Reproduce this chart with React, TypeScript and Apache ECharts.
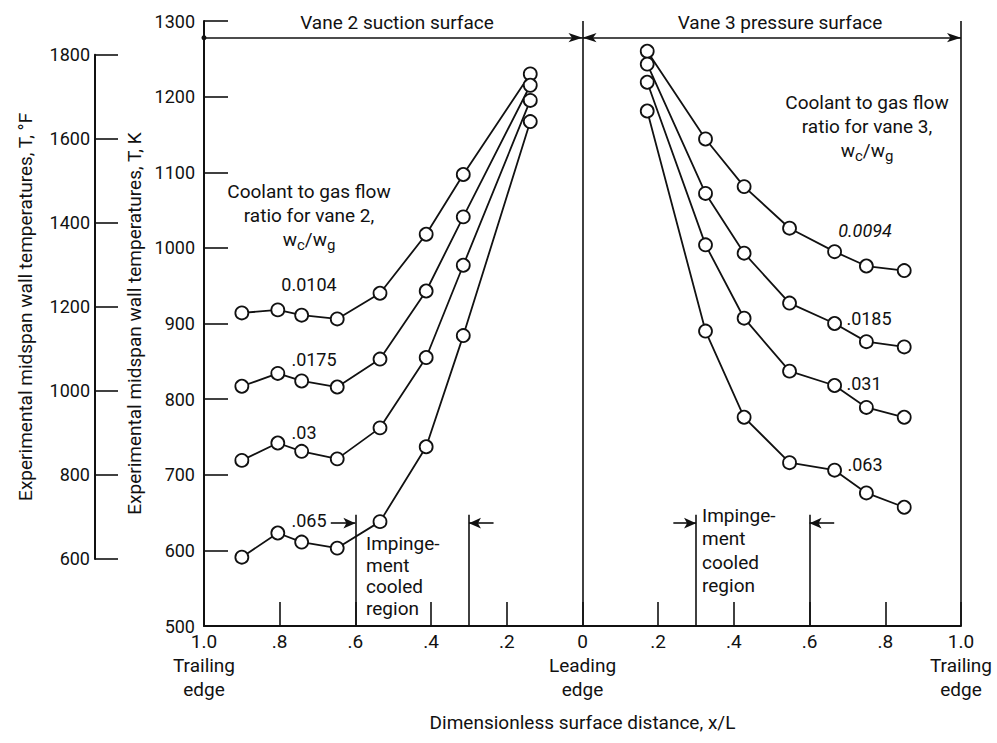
import React, { useEffect, useRef } from "react";
import * as echarts from "echarts";

// ---- data ----
// Vane 2 suction surface: x/L positions (plotted to the left of the leading edge)
const xVane2 = [0.9, 0.805, 0.742, 0.648, 0.535, 0.413, 0.315, 0.138];
const vane2Labels = ["0.0104", ".0175", ".03", ".065"];
const vane2_0104 = [914, 918, 911, 906, 940, 1018, 1097, 1230];
const vane2_0175 = [817, 834, 824, 816, 853, 943, 1041, 1215];
const vane2_030 = [719, 742, 731, 721, 762, 855, 977, 1195];
const vane2_065 = [591, 623, 611, 603, 638, 737, 884, 1167];

// Vane 3 pressure surface
const xVane3 = [0.171, 0.325, 0.427, 0.547, 0.666, 0.75, 0.85];
const vane3Labels = ["0.0094", ".0185", ".031", ".063"];
const vane3_0094 = [1260, 1144, 1081, 1026, 995, 976, 970];
const vane3_0185 = [1243, 1072, 993, 927, 900, 876, 869];
const vane3_031 = [1219, 1004, 907, 837, 818, 789, 776];
const vane3_063 = [1181, 890, 776, 716, 706, 676, 657];

// axes
const kMin = 500, kMax = 1300, kStep = 100;
const fMin = 600, fMax = 1800, fStep = 200;
const xMin = -1, xMax = 1, xStep = 0.2;
const impingeRegion = [0.3, 0.6];

const FONT = "Roboto";
const INK = "#111";
const FS = 19;

export default function App() {
  const ref = useRef<HTMLDivElement>(null);
  useEffect(() => {
    if (!ref.current) return;
    const chart = echarts.init(ref.current, null, { renderer: "svg" });

    const mkSeries = (xs: number[], ys: number[], sign: number, extra: any = {}) => ({
      type: "line",
      xAxisIndex: 0,
      yAxisIndex: 0,
      data: xs.map((x, i) => [sign * x, ys[i]]),
      symbol: "circle",
      symbolSize: 13,
      showSymbol: true,
      silent: true,
      z: 3,
      lineStyle: { color: INK, width: 1.8 },
      itemStyle: { color: "#fff", borderColor: INK, borderWidth: 1.8 },
      ...extra,
    });

    const lineY = 647; // top of impingement boundary lines (K)
    const arrowY = 636;
    const topY = 1278;
    const ln = (a: number[], b: number[]) => [
      { coord: a, symbol: "none" },
      { coord: b, symbol: "none" },
    ];
    const arrow = (a: number[], b: number[]) => [
      { coord: a, symbol: "none" },
      { coord: b, symbol: "arrow", symbolSize: [8, 12] },
    ];

    const markLine = {
      silent: true,
      animation: false,
      symbol: ["none", "none"],
      label: { show: false },
      lineStyle: { color: INK, width: 1.6, type: "solid" },
      data: [
        ln([0, kMin], [0, kMax]),
        ln([1, kMin], [1, kMax]),
        ln([-impingeRegion[1], kMin], [-impingeRegion[1], lineY]),
        ln([-impingeRegion[0], kMin], [-impingeRegion[0], lineY]),
        ln([impingeRegion[0], kMin], [impingeRegion[0], lineY]),
        ln([impingeRegion[1], kMin], [impingeRegion[1], lineY]),
        arrow([-0.665, arrowY], [-impingeRegion[1], arrowY]),
        arrow([-0.235, arrowY], [-impingeRegion[0], arrowY]),
        arrow([0.24, arrowY], [impingeRegion[0], arrowY]),
        arrow([0.665, arrowY], [impingeRegion[1], arrowY]),
        [
          { coord: [-1, topY], symbol: "circle", symbolSize: 5 },
          { coord: [0, topY], symbol: "arrow", symbolSize: [7, 14] },
        ],
        [
          { coord: [0, topY], symbol: "arrow", symbolSize: [7, 14] },
          { coord: [1, topY], symbol: "arrow", symbolSize: [7, 14] },
        ],
      ],
    };

    const series: any[] = [
      mkSeries(xVane2, vane2_0104, -1, { markLine }),
      mkSeries(xVane2, vane2_0175, -1),
      mkSeries(xVane2, vane2_030, -1),
      mkSeries(xVane2, vane2_065, -1),
      mkSeries(xVane3, vane3_0094, 1),
      mkSeries(xVane3, vane3_0185, 1),
      mkSeries(xVane3, vane3_031, 1),
      mkSeries(xVane3, vane3_063, 1),
    ];

    const txt = (x: number, y: number, text: string, extra: any = {}) => ({
      type: "text",
      x,
      y,
      silent: true,
      style: {
        text,
        fill: INK,
        fontFamily: FONT,
        fontSize: FS,
        align: "center",
        verticalAlign: "middle",
        ...extra,
      },
    });

    const wRich = {
      w: { fontSize: FS, fontFamily: FONT, color: INK },
      sub: { fontSize: 15, fontFamily: FONT, color: INK, padding: [12, 0, 0, 0] },
    };

    const block = (x: number, y: number, text: string, lh: number, align: string) => ({
      type: "text",
      x,
      y,
      silent: true,
      style: {
        text,
        fill: INK,
        fontFamily: FONT,
        fontSize: FS,
        lineHeight: lh,
        align,
        verticalAlign: "top",
        rich: wRich,
      },
    });

    const graphic = [
      txt(397, 22, "Vane 2 suction surface"),
      txt(780, 22, "Vane 3 pressure surface"),
      block(309, 179, "Coolant to gas flow\nratio for vane 2,\n{w|w}{sub|c}{w|/w}{sub|g}", 24, "center"),
      block(867, 90, "Coolant to gas flow\nratio for vane 3,\n{w|w}{sub|c}{w|/w}{sub|g}", 24, "center"),
      txt(309, 284, vane2Labels[0], { fontSize: 18 }),
      txt(314, 359, vane2Labels[1], { fontSize: 18 }),
      txt(304, 432, vane2Labels[2], { fontSize: 18 }),
      txt(309, 520, vane2Labels[3], { fontSize: 18 }),
      txt(865, 230, vane3Labels[0], { fontSize: 18, fontStyle: "italic" }),
      txt(869, 318, vane3Labels[1], { fontSize: 18 }),
      txt(864, 383, vane3Labels[2], { fontSize: 18 }),
      txt(865, 464, vane3Labels[3], { fontSize: 18 }),
      block(366, 533, "Impinge-\nment\ncooled\nregion", 21.5, "left"),
      block(702, 504, "Impinge-\nment\ncooled\nregion", 23.3, "left"),
    ];

    const fmtX = (v: number) => {
      const a = Math.abs(v);
      if (a < 1e-6) return "0\nLeading\nedge";
      if (Math.abs(a - 1) < 1e-6) return "1.0\nTrailing\nedge";
      return "." + Math.round(a * 10);
    };

    const kToPx = (k: number) => 626 - (k - kMin) * (605 / (kMax - kMin));
    const fToK = (f: number) => (f + 459.67) / 1.8;
    const fTop = kToPx(fToK(fMax));
    const fBottom = kToPx(fToK(fMin));

    chart.setOption({
      animation: false,
      backgroundColor: "#fff",
      textStyle: { fontFamily: FONT, color: INK },
      grid: [
        { left: 204, top: 21, width: 757, height: 605 },
        { left: 95, top: fTop, width: 10, height: fBottom - fTop },
      ],
      xAxis: [
        {
          type: "value",
          gridIndex: 0,
          min: xMin,
          max: xMax,
          interval: xStep,
          axisLine: { show: true, onZero: false, lineStyle: { color: INK, width: 2 } },
          axisTick: { show: true, inside: true, length: 24, lineStyle: { color: INK, width: 1.6 } },
          splitLine: { show: false },
          axisLabel: {
            formatter: fmtX,
            color: INK,
            fontSize: FS,
            lineHeight: 24,
            margin: 3,
            fontFamily: FONT,
            showMinLabel: true,
            showMaxLabel: true,
          },
          name: "Dimensionless surface distance, x/L",
          nameLocation: "middle",
          nameGap: 87,
          nameTextStyle: { fontSize: FS, color: INK, fontFamily: FONT },
        },
        { type: "value", gridIndex: 1, show: false, min: 0, max: 1 },
      ],
      yAxis: [
        {
          type: "value",
          gridIndex: 0,
          min: kMin,
          max: kMax,
          interval: kStep,
          position: "left",
          axisLine: { show: true, onZero: false, lineStyle: { color: INK, width: 2 } },
          axisTick: { show: true, inside: true, length: 24, lineStyle: { color: INK, width: 1.6 } },
          splitLine: { show: false },
          axisLabel: { color: INK, fontSize: 18, margin: 9, fontFamily: FONT, formatter: (v: number) => String(v) },
          name: "Experimental midspan wall temperatures, T, K",
          nameLocation: "middle",
          nameGap: 57,
          nameRotate: 90,
          nameTextStyle: { fontSize: FS, color: INK, fontFamily: FONT },
        },
        {
          type: "value",
          gridIndex: 1,
          min: fMin,
          max: fMax,
          interval: fStep,
          position: "left",
          axisLine: { show: true, onZero: false, lineStyle: { color: INK, width: 2 } },
          axisTick: { show: true, inside: true, length: 23, lineStyle: { color: INK, width: 1.6 } },
          splitLine: { show: false },
          axisLabel: { color: INK, fontSize: 18, margin: 5, fontFamily: FONT, formatter: (v: number) => String(v) },
          name: "Experimental midspan wall temperatures, T, °F",
          nameLocation: "middle",
          nameGap: 60,
          nameRotate: 90,
          nameTextStyle: { fontSize: FS, color: INK, fontFamily: FONT },
        },
      ],
      series,
      graphic,
    });

    return () => chart.dispose();
  }, []);

  return (
    <div
      ref={ref}
      style={{ position: "fixed", left: 0, top: 0, width: 997, height: 743, background: "#fff" }}
    />
  );
}
